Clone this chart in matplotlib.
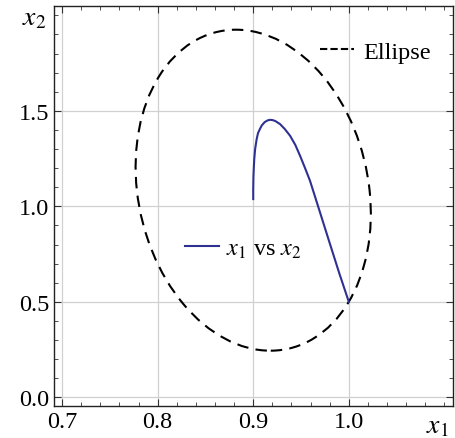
import matplotlib
matplotlib.use('Agg')
from matplotlib import pyplot as plt
from matplotlib.patches import Ellipse
from matplotlib.lines import Line2D
from matplotlib.ticker import MultipleLocator

plt.rcParams['font.family'] = ['Liberation Serif', 'DejaVu Serif']
plt.rcParams['mathtext.fontset'] = 'stix'

# trajectory x1 vs x2
x1 = [0.900, 0.900, 0.9002, 0.9006, 0.9011, 0.902, 0.9036, 0.905, 0.907,
      0.909, 0.912, 0.915, 0.9175, 0.920, 0.923, 0.928, 0.933, 0.9385,
      0.944, 0.949, 0.954, 0.9594, 0.968, 0.9803, 0.990, 1.000]
x2 = [1.038, 1.087, 1.150, 1.200, 1.248, 1.300, 1.352, 1.383, 1.405,
      1.424, 1.441, 1.450, 1.453, 1.452, 1.447, 1.431, 1.405, 1.370,
      1.322, 1.265, 1.203, 1.134, 0.998, 0.803, 0.650, 0.500]

# ellipse parameters
ell_center = (0.900, 1.0845)
ell_width = 0.2434
ell_height = 1.6814
ell_angle = 1.25

blue = '#2e3192'

fig = plt.figure(figsize=(4.55, 4.39), dpi=100)
ax = fig.add_axes([0.1187, 0.0736, 0.8769, 0.9104])

ax.add_patch(Ellipse(ell_center, ell_width, ell_height, angle=ell_angle,
                     fill=False, edgecolor='black', lw=1.5,
                     linestyle=(0, (5.5, 3.5))))
ax.plot(x1, x2, color=blue, lw=1.5)

ax.set_xlim(0.6916, 1.109)
ax.set_ylim(-0.044, 2.049)
ax.set_xticks([0.7, 0.8, 0.9, 1.0])
ax.set_yticks([0.0, 0.5, 1.0, 1.5])
ax.xaxis.set_minor_locator(MultipleLocator(0.02))
ax.yaxis.set_minor_locator(MultipleLocator(0.1))
ax.tick_params(which='both', direction='in', top=True, right=True,
               labelsize=17.5, color='#333333')
ax.tick_params(which='major', length=5, width=0.8)
ax.tick_params(which='minor', length=3, width=0.6)
ax.grid(True, which='major', color='#d0d0d0', lw=0.9)
ax.set_axisbelow(True)
for s in ax.spines.values():
    s.set_color('#222222')
    s.set_linewidth(1.0)

fig.text(34 / 455, 1 - 19 / 439, r'$x_2$', fontsize=20, ha='center', va='center')
fig.text(437 / 455, 1 - 427 / 439, r'$x_1$', fontsize=20, ha='center', va='center')

leg1 = ax.legend([Line2D([], [], color='black', lw=1.5, linestyle=(0, (3.5, 1.5)))],
                 ['Ellipse'], loc='center left', bbox_to_anchor=(0.667, 0.885),
                 frameon=False, fontsize=17.5, borderpad=0, borderaxespad=0,
                 handlelength=1.4, handletextpad=0.38)
ax.add_artist(leg1)
ax.legend([Line2D([], [], color=blue, lw=1.5)], [r'$x_1$ vs $x_2$'],
          loc='center left', bbox_to_anchor=(0.328, 0.392),
          frameon=False, fontsize=17.5, borderpad=0, borderaxespad=0,
          handlelength=1.4, handletextpad=0.3)

fig.savefig('out.png', dpi=100)
